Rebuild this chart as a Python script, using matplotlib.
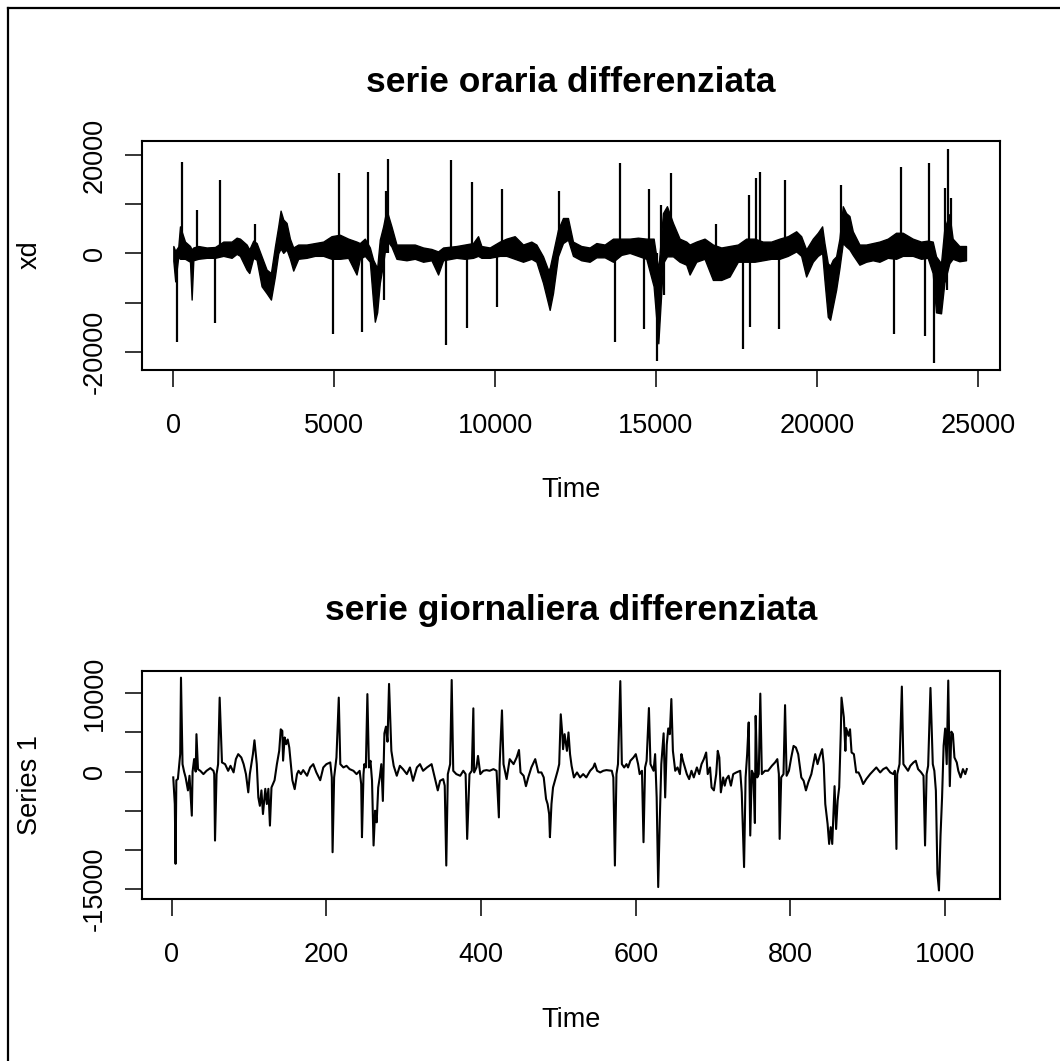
import matplotlib
matplotlib.use("Agg")
import matplotlib.pyplot as plt
from matplotlib.lines import Line2D

plt.rcParams['font.family'] = ['Liberation Sans', 'DejaVu Sans']

# ---- hourly differenced series (dense): band envelope ----
hr_t = [1, 60, 156, 208, 363, 519, 570, 622, 777, 1036, 1295, 1554, 1812, 1968, 2071,
        2278, 2361, 2485, 2589, 2744, 2899, 3034, 3158, 3261, 3334, 3417, 3520, 3624,
        3727, 3882, 4141, 4400, 4659, 4917, 5176, 5435, 5694, 5797, 5952, 6108, 6211,
        6263, 6335, 6418, 6522, 6625, 6780, 6936, 7246, 7505, 7764, 8022, 8229, 8385,
        8799, 9057, 9316, 9471, 9575, 9834, 10144, 10351, 10610, 10869, 11127, 11283,
        11490, 11645, 11697, 11800, 11955, 12110, 12265, 12421, 12679, 12938, 13148,
        13406, 13665, 13924, 14183, 14441, 14700, 14928, 15073, 15218, 15342, 15528,
        15735, 15942, 16046, 16253, 16511, 16770, 17029, 17288, 17546, 17805, 18064,
        18323, 18581, 18840, 19099, 19358, 19513, 19668, 19875, 20030, 20165, 20237,
        20341, 20413, 20496, 20600, 20703, 20807, 20910, 21014, 21117, 21324, 21531,
        21738, 21945, 22204, 22463, 22670, 22980, 23239, 23446, 23601, 23705, 23860,
        23963, 24119, 24222, 24429, 24636]
hr_hi = [1500, 500, 1400, 5500, 2400, 1500, 800, 1200, 1500, 1200, 1300, 2400, 2400, 3200, 3000,
         1800, 800, 2600, 2100, -600, -3300, -4000, 1400, 5500, 8700, 6900, 6200, 3000,
         1200, 1800, 1800, 2100, 2400, 3500, 3800, 3000, 2400, 2100, 3000, 1200, -1300,
         -2000, -3000, 2800, 5500, 8900, 5500, 1800, 1800, 1800, 1200, 900, 400, 1200,
         1500, 1800, 2100, 3500, 1500, 1200, 2400, 3000, 3500, 1800, 2400, 1800,
         -600, -3300, -3000, 100, 4800, 7200, 7200, 2400, 1500, 1200, 2100,
         1800, 3000, 3000, 3000, 3200, 3000, 3000, -3300, 8200, 9600, 6200,
         3000, 2400, 1800, 2400, 3000, 1800, 1200, 1500, 1800, 3000, 3000,
         2400, 2400, 3000, 3500, 4500, 3500, 800, 3000, 4200, 5500, 2100,
         -2000, -2500, -1300, -600, 3000, 9600, 8200, 7600, 4500, 1800, 1800,
         2100, 2400, 3000, 4200, 4200, 3000, 2400, 2600, 2400, -600, -2000,
         5000, 8000, 3000, 1500, 1500]
hr_lo = [-1500, -5700, -600, -1100, -1100, -1700, -9400, -1400, -1100, -900, -900, -500, -900, -100, -500,
         -3300, -4000, -900, -1300, -6700, -8100, -9400, -4700, 0, 1000, 100, 800, -1100,
         -3500, -1100, -900, -500, -500, -1100, -1100, -900, -4300, -1100, -500, -1700, -10100,
         -13900, -12000, -6000, -2000, 2800, 1400, -1100, -1400, -1100, -1700, -1400, -4300, -1400,
         -900, -1100, -900, -500, -900, -900, -500, -500, -1100, -1700, -1100, -1700,
         -6000, -10100, -11500, -8100, -600, 2100, 2800, -500, -1400, -1700, -800,
         -800, -1700, -300, 100, -500, -1100, -6700, -18300, -2000, -600, -600,
         -1700, -2300, -4300, -1700, -1100, -5400, -5400, -4700, -1700, -1700, -1700,
         -1400, -1100, -1100, -500, 400, -500, -4700, -1700, -500, 100, -5400,
         -12900, -13500, -10800, -7400, -3000, 2100, 1400, 800, -300, -2300, -1700,
         -1400, -1700, -900, -1100, -500, -500, -1100, -900, -4000, -12000, -12200,
         -6000, -2000, -1100, -1600, -1400]

# isolated one-hour spikes of the hourly series
spike_t = [105, 280, 747, 1296, 1450, 2537, 4969, 5136, 5870, 6036, 6553, 6605, 6688,
           8490, 8645, 9142, 9297, 10063, 10228, 11998, 13717, 13891, 14618, 14783,
           15031, 15168, 15239, 15456, 16876, 17702, 17888, 17929, 18096, 18231, 18832,
           19008, 20757, 22413, 22609, 23353, 23499, 23650, 23970, 24042, 24081, 24173]
spike_v = [-17960, 18650, 8920, -14200, 14900, 6000, -16390, 16400, -16040, 16570, -9450, 12650, 19260,
           -18630, 18980, -15230, 14570, -10810, 13140, 12650, -17960, 18310, -15370, 13140,
           -21900, 9940, -8430, 16400, 6000, -19450, 11980, -14890, 15390, 16570, -15370,
           15040, 13820, -16390, 17550, -16730, 18370, -22250, 13350, -7550, 21160, 11360]

# ---- daily differenced series ----
day_t = [2, 4, 5, 6, 8, 11, 12, 14, 16, 18, 21, 23, 26, 27, 29, 31, 32, 34, 37, 41, 45, 50, 54, 55,
         56, 58, 60, 62, 65, 69, 73, 76, 80, 83, 86, 90, 93, 96, 99, 101, 105, 107, 110, 112,
         114, 116, 118, 121, 123, 125, 127, 129, 133, 136, 139, 141, 143, 144, 146, 148, 150,
         152, 154, 156, 159, 162, 164, 167, 170, 175, 179, 183, 187, 192, 196, 200, 205, 207,
         208, 210, 213, 216, 218, 222, 226, 230, 235, 239, 243, 245, 246, 248, 249, 251, 253,
         255, 257, 259, 261, 263, 265, 267, 269, 271, 273, 275, 277, 279, 281, 284, 287, 291,
         295, 299, 304, 308, 312, 317, 321, 325, 330, 336, 340, 344, 347, 351, 353, 355, 357,
         360, 362, 364, 368, 373, 377, 380, 382, 385, 388, 390, 391, 394, 396, 399, 403, 407,
         411, 416, 420, 423, 424, 427, 429, 433, 437, 442, 446, 449, 451, 455, 458, 461, 465,
         470, 474, 478, 481, 484, 486, 488, 489, 491, 493, 496, 499, 501, 503, 505, 506, 508,
         511, 513, 515, 517, 520, 524, 528, 532, 536, 541, 545, 547, 550, 554, 558, 562, 569,
         571, 573, 575, 577, 580, 582, 585, 588, 590, 593, 597, 600, 603, 605, 608, 610, 612,
         614, 617, 619, 623, 625, 627, 629, 631, 633, 636, 638, 640, 642, 644, 646, 648, 651,
         654, 657, 659, 661, 666, 669, 672, 675, 679, 682, 685, 688, 691, 693, 696, 698, 701,
         704, 706, 708, 710, 713, 715, 717, 720, 723, 726, 730, 735, 737, 740, 742, 744, 746,
         748, 750, 752, 754, 755, 757, 759, 761, 763, 767, 771, 776, 780, 783, 785, 786, 788,
         791, 793, 795, 798, 801, 804, 807, 810, 814, 817, 820, 823, 827, 832, 835, 838, 841,
         843, 845, 848, 850, 852, 854, 857, 859, 861, 863, 865, 866, 869, 871, 872, 875, 877,
         879, 882, 885, 888, 891, 894, 898, 903, 907, 911, 916, 920, 924, 929, 933, 935, 937,
         938, 941, 944, 946, 949, 952, 955, 959, 962, 965, 969, 972, 974, 976, 978, 981, 984,
         986, 988, 990, 992, 994, 996, 998, 1000, 1002, 1004, 1006, 1008, 1010, 1012, 1015,
         1017, 1020, 1023, 1026, 1028]
day_v = [-740, -4140, -11780, -1100, -950, 2230, 12000, 950, 0, -740, -2400, -530, -5630, 0, 1600, 0,
         4780, 300, 100, -320, 100, 450, 100, -320, -8810, -320, 950, 9450, 1170, 950, 100, 740,
         -100, 1600, 2230, 1800, 950, -320, -2650, -320, 2230, 4000, 950, -3300, -4370, -2400,
         -5420, -2200, -4140, -2200, -6900, -2030, -1100, 950, 2650, 5400, 5200, 1400, 4360,
         3500, 4100, 3080, 950, -1100, -2240, -320, 100, -320, 190, -530, 530, 950, -100, -1100,
         530, 950, 1170, -740, -10300, -740, 1800, 9450, 950, 530, 740, 320, 100, -320, 100,
         -1600, -8380, -320, 950, 530, 9900, 530, 1380, -1170, -9440, -5000, -6480, -2030, -740,
         950, -3750, 4890, 5740, 3820, 11200, 2650, 740, -530, 740, 320, -320, 530, -1180, 530,
         950, 100, 530, 950, -740, -2400, -1170, -960, -1800, -12000, -320, 955, 11700, 100,
         -320, -532, 105, -320, -8600, -320, 105, 8080, -107, 530, 2000, -320, 105, 190, 105,
         318, 105, -5850, 955, 7820, 955, -956, 1592, 955, 1804, 2760, -107, -532, -1860, -744,
         530, 1592, -107, -107, -744, -3500, -4140, -5420, -8380, -4140, -2030, -956, 105, 955,
         7320, 4780, 2860, 4780, 2650, 5000, 2230, 743, -744, -107, -744, -320, -744, 105, 530,
         1040, 105, -107, 105, 190, 105, -744, -12000, -320, 955, 11560, 955, 530, 955, 530,
         1380, 1804, 2230, 955, -320, 105, -9020, 530, 1380, 8120, 955, 105, 2230, -3300,
         -14750, -6260, 955, 4890, -3300, 3400, 5520, 4780, 9270, 2650, 105, 530, -320, 2230,
         1380, -320, -956, 105, -744, 530, -320, 955, 1592, 2440, -320, 530, -2030, -2400,
         -320, 2650, 1800, -2650, -744, -1800, -956, -532, -1800, -320, -107, 105, -2650,
         -12200, -744, 2230, 6280, -8170, 105, -320, -6570, 7120, -744, -320, 9960, -320, 105,
         105, 743, 1167, 1592, -320, -8600, -744, -320, 8490, -532, 105, 1804, 3280, 3080,
         2230, -744, -1170, -2400, -1380, -320, 2230, 955, 2030, 2870, 955, -4140, -6690,
         -9240, -7100, -9240, -1860, -7330, -3700, -2000, 4780, 9450, 6940, 2650, 5560, 4570,
         5400, 2440, 2230, -107, -107, -744, -1590, -956, -320, 105, 530, -107, 318, 530,
         -107, -320, 105, -9880, -320, 955, 10860, 955, 530, 105, 743, 1167, 1380, 318, -107,
         -532, -9440, -320, 743, 10690, 955, 105, -2440, -13040, -15180, -8170, -3300, 3310,
         5500, 955, 11630, -1860, 5100, 4800, 1804, 1167, 105, -744, 318, -320, 318]

W, H = 1060, 1061
fig = plt.figure(figsize=(W / 100, H / 100), dpi=100)

FS = 19.5
TICK = dict(length=12.2, width=1.1, labelsize=FS, direction='out', color='black')


def style(ax):
    for s in ax.spines.values():
        s.set_linewidth(1.5)
    ax.tick_params(axis='x', pad=19, **TICK)
    ax.tick_params(axis='y', pad=12.5, **TICK)
    for lab in ax.get_yticklabels():
        lab.set_rotation(90)
        lab.set_va('center')


# top panel
ax1 = fig.add_axes([142 / W, 1 - 370 / H, 858 / W, 229.3 / H])
ax1.fill_between(hr_t, hr_lo, hr_hi, color='black', lw=1.0)
ax1.vlines(spike_t, 0, spike_v, color='black', lw=1.6)
ax1.set_xlim(-973, 25693)
ax1.set_ylim(-23735, 22939)
ax1.set_xticks([0, 5000, 10000, 15000, 20000, 25000])
ax1.set_yticks([-20000, -10000, 0, 10000, 20000])
ax1.set_yticklabels(['-20000', '', '0', '', '20000'])
style(ax1)

# bottom panel
ax2 = fig.add_axes([142 / W, 1 - 899 / H, 858 / W, 228 / H])
ax2.plot(day_t, day_v, color='black', lw=1.5)
ax2.set_xlim(-38.4, 1070.9)
ax2.set_ylim(-16275, 12851)
ax2.set_xticks([0, 200, 400, 600, 800, 1000])
ax2.set_yticks([-15000, -10000, -5000, 0, 5000, 10000])
ax2.set_yticklabels(['-15000', '', '', '0', '', '10000'])
style(ax2)

# titles and axis titles
TFS = 25.5
fig.text(571 / W, 1 - 92 / H, 'serie oraria differenziata', ha='center', va='baseline',
         fontsize=TFS, fontweight='bold')
fig.text(571 / W, 1 - 620 / H, 'serie giornaliera differenziata', ha='center', va='baseline',
         fontsize=TFS, fontweight='bold')
fig.text(571 / W, 1 - 497 / H, 'Time', ha='center', va='baseline', fontsize=FS)
fig.text(571 / W, 1 - 1027 / H, 'Time', ha='center', va='baseline', fontsize=FS)
fig.text(43 / W, 1 - 255 / H, 'xd', ha='right', va='center', rotation=90, fontsize=FS)
fig.text(43 / W, 1 - 785 / H, 'Series 1', ha='right', va='center', rotation=90, fontsize=FS)

# outer frame (left and top edges visible)
fig.add_artist(Line2D([8 / W, 8 / W], [0, 1 - 8 / H], transform=fig.transFigure, color='black', lw=1.6))
fig.add_artist(Line2D([8 / W, 1], [1 - 8 / H, 1 - 8 / H], transform=fig.transFigure, color='black', lw=1.6))

fig.savefig('out.png', dpi=100)
